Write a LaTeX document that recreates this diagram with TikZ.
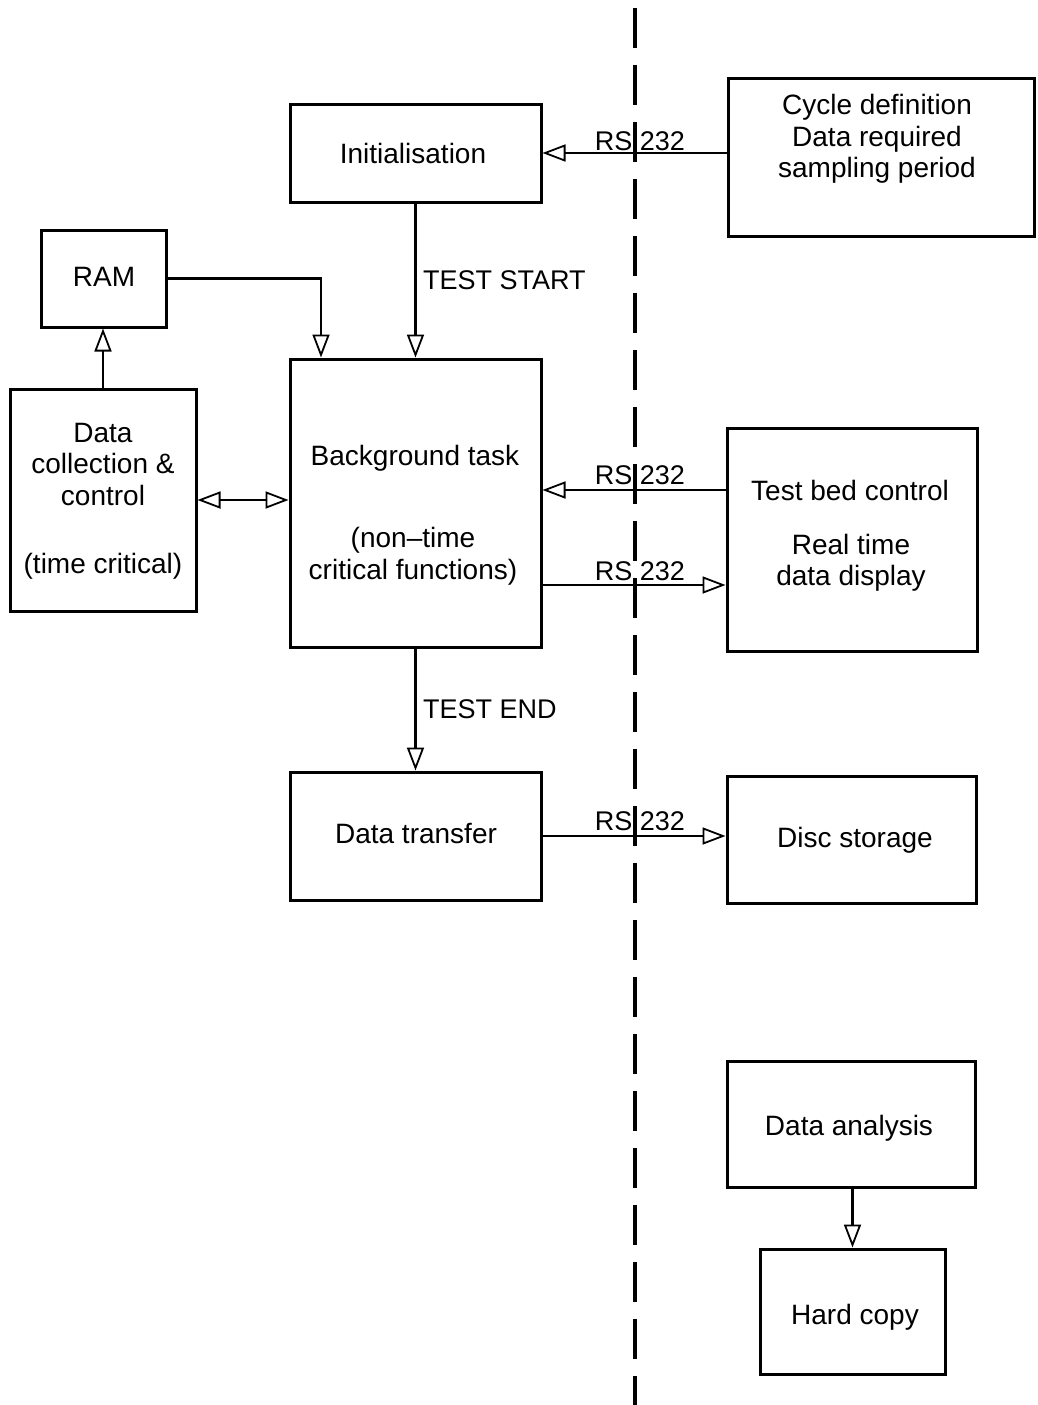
\documentclass[tikz,border=0pt]{standalone}
\usepackage{fontspec}
\setmainfont{Liberation Sans}
\usetikzlibrary{arrows.meta}
\begin{document}
\begin{tikzpicture}[x=1pt,y=-1pt,
  box/.style={draw, line width=3pt, inner sep=0pt},
  txt/.style={font=\fontsize{28}{31.5}\selectfont, align=center, inner sep=0pt},
  lbl/.style={font=\fontsize{27}{30}\selectfont, inner sep=0pt},
  tip/.style={},
  conn/.style={line width=2.4pt, -{Triangle[open,length=23pt,width=17pt,line width=1.8pt]}},
  conn2/.style={line width=2.4pt, {Triangle[open,length=23pt,width=17pt,line width=1.8pt]}-{Triangle[open,length=23pt,width=17pt,line width=1.8pt]}},
  divider/.style={line width=3.4pt, dash pattern=on 40pt off 17pt},
]
\useasboundingbox[fill=white] (0,0) rectangle (1037,1405);

% divider line
\coordinate (dtop) at (635,8);
\coordinate (dbot) at (635,1405);
\draw[divider] (dtop) -- (dbot);

% boxes
\node[box, minimum width=251pt, minimum height=98pt]  (init) at (415.5,153) {};
\node[box, minimum width=306pt, minimum height=158pt] (cyc)  at (881,157) {};
\node[box, minimum width=125pt, minimum height=97pt]  (ram)  at (103.5,278.5) {};
\node[box, minimum width=186pt, minimum height=222pt] (dcc)  at (103,500) {};
\node[box, minimum width=251pt, minimum height=288pt] (bg)   at (415.5,503) {};
\node[box, minimum width=250pt, minimum height=223pt] (tbc)  at (852,539.5) {};
\node[box, minimum width=251pt, minimum height=128pt] (dt)   at (415.5,836) {};
\node[box, minimum width=249pt, minimum height=127pt] (disc) at (851.5,839.5) {};
\node[box, minimum width=248pt, minimum height=126pt] (da)   at (851,1124) {};
\node[box, minimum width=185pt, minimum height=125pt] (hc)   at (852.5,1311.5) {};

% texts inside boxes
\node[txt] (initT) at (413,153) {Initialisation};
\node[txt] (cycT)  at (877,139) {Cycle definition\\Data required\\sampling period};
\node[txt] (ramT)  at (104,277) {RAM};
\node[txt] (dccT1) at (103,464) {Data\\collection \&\\control};
\node[txt] (dccT2) at (103,566) {(time critical)};
\node[txt] (bgT1)  at (415,458) {Background task};
\node[txt] (bgT2)  at (413,556) {(non--time\\critical functions)};
\node[txt] (tbcT1) at (850,490) {Test bed control};
\node[txt] (tbcT2) at (851,563) {Real time\\data display};
\node[txt] (dtT)   at (416,833) {Data transfer};
\node[txt] (discT) at (855,840) {Disc storage};
\node[txt] (daT)   at (849,1128) {Data analysis};
\node[txt] (hcT)   at (855,1317) {Hard copy};

% helper coordinates
\coordinate (p490) at (0,490);
\coordinate (p585) at (0,585);
\coordinate (p153) at (0,153);
\coordinate (x321) at (321,0);

% connectors
\draw[conn] (cyc.west |- p153) -- (init.east |- p153);
\draw[conn] (init.south) -- (bg.north);
\draw[conn] (ram.east) -| (x321 |- bg.north);
\draw[conn] (dcc.north) -- (dcc.north |- ram.south);
\draw[conn2] (dcc.east) -- (dcc.east -| bg.west);
\draw[conn] (tbc.west |- p490) -- (bg.east |- p490);
\draw[conn] (bg.east |- p585) -- (tbc.west |- p585);
\draw[conn] (bg.south) -- (dt.north);
\draw[conn] (dt.east) -- (dt.east -| disc.west);
\draw[conn] (hc.north |- da.south) -- (hc.north);

% connector labels
\node[lbl] (rs1) at (640,141) {RS 232};
\node[lbl] (rs2) at (640,475) {RS 232};
\node[lbl] (rs3) at (640,571) {RS 232};
\node[lbl] (rs4) at (640,821) {RS 232};
\node[lbl, anchor=west] (tstart) at (423,280) {TEST START};
\node[lbl, anchor=west] (tend) at (423,709) {TEST END};
\end{tikzpicture}
\end{document}
